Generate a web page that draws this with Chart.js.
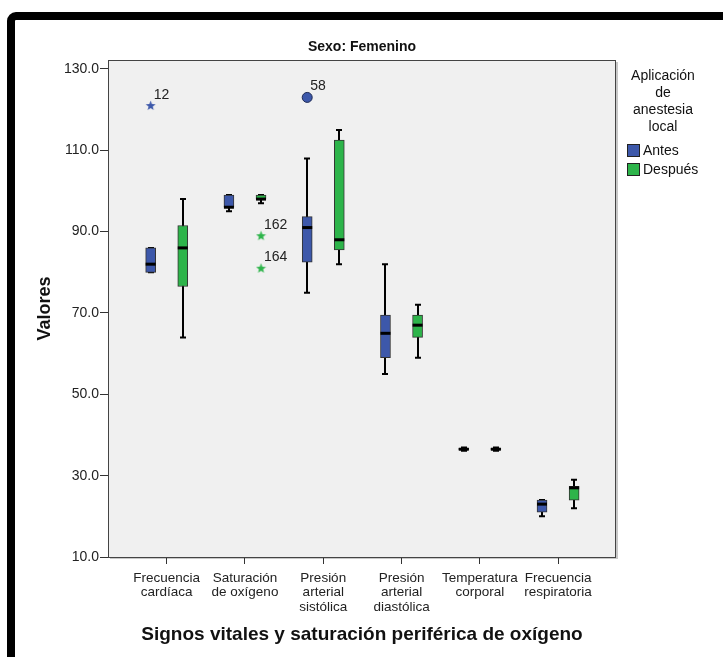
<!DOCTYPE html>
<html>
<head>
<meta charset="utf-8">
<script src="https://cdn.jsdelivr.net/npm/chart.js@4.4.0/dist/chart.umd.min.js"></script>
<style>
    html, body { margin: 0; padding: 0; background: #fff; }
    #wrap { position: relative; width: 723px; height: 657px; overflow: hidden; }
    #frame { position: absolute; left: 7px; top: 12px; width: 760px; height: 700px;
             border: 8px solid #000; border-radius: 9px; box-sizing: border-box; }
    #chart { position: absolute; left: 0; top: 0; }
</style>
</head>
<body>
<div id="wrap">
    <div id="frame"></div>
    <canvas id="chart" width="723" height="657"></canvas>
</div>
<script>
// categorías (eje X)
const categories = [
    ['Frecuencia', 'cardíaca'],
    ['Saturación', 'de oxígeno'],
    ['Presión', 'arterial', 'sistólica'],
    ['Presión', 'arterial', 'diastólica'],
    ['Temperatura', 'corporal'],
    ['Frecuencia', 'respiratoria']
];

// Antes
const antesMin = [80, 95, 75, 55, 36.1, 20];
const antesQ1  = [80, 96, 82.5, 59, 36.3, 21];
const antesMed = [82, 96, 91, 65, 36.5, 23];
const antesQ3  = [86, 99, 93.7, 69.5, 36.7, 24];
const antesMax = [86, 99, 108, 82, 36.9, 24];

// Después
const despuesMin = [64, 97, 82, 59, 36.1, 22];
const despuesQ1  = [76.5, 98, 85.5, 64, 36.3, 24];
const despuesMed = [86, 98, 88, 67, 36.5, 27];
const despuesQ3  = [91.5, 99, 112.5, 69.5, 36.7, 27.4];
const despuesMax = [98, 99, 115, 72, 36.9, 29];

// valores atípicos
const outlierGroup  = [0, 2, 1, 1];
const outlierSerie  = ['Antes', 'Antes', 'Después', 'Después'];
const outlierValue  = [121, 123, 89, 81];
const outlierLabel  = ['12', '58', '162', '164'];
const outlierShape  = ['star', 'circle', 'star', 'star'];

const yTicks = [10, 30, 50, 70, 90, 110, 130];
const legendTitle = ['Aplicación', 'de', 'anestesia', 'local'];
const seriesNames = ['Antes', 'Después'];

const COLOR_ANTES = '#3d58aa';
const COLOR_DESPUES = '#2db44a';
const SHIFT = 0.205;   // desplazamiento de cada caja respecto a la categoría
const FONT = "'Liberation Sans', Arial, sans-serif";

// estrella de 5 puntas como estilo de punto
function makeStar(color) {
    const c = document.createElement('canvas');
    c.width = 11;
    c.height = 11;
    const g = c.getContext('2d');
    g.fillStyle = color;
    g.beginPath();
    for (let j = 0; j < 10; j++) {
        const r = j % 2 === 0 ? 5.2 : 2.2;
        const ang = -Math.PI / 2 + j * Math.PI / 5;
        const px = 5.5 + r * Math.cos(ang);
        const py = 5.8 + r * Math.sin(ang);
        if (j === 0) g.moveTo(px, py); else g.lineTo(px, py);
    }
    g.closePath();
    g.fill();
    return c;
}

function boxData(q1, q3, sign) {
    return categories.map((c, i) => ({ x: i + sign * SHIFT, y: [q1[i], q3[i]] }));
}

function outlierData(serie) {
    const pts = [];
    outlierValue.forEach((v, k) => {
        if (outlierSerie[k] !== serie) return;
        pts.push({ x: outlierGroup[k] + (serie === 'Antes' ? -SHIFT : SHIFT), y: v, k: k });
    });
    return pts;
}

const starAntes = makeStar(COLOR_ANTES);
const starDespues = makeStar(COLOR_DESPUES);

const boxPlugin = {
    id: 'boxParts',
    beforeDraw(chart) {
        const { ctx, chartArea: a } = chart;
        ctx.save();
        // sombra ligera y fondo del área de trazado
        ctx.fillStyle = '#c8c8c8';
        ctx.fillRect(a.left + 2, a.top + 2, a.right - a.left, a.bottom - a.top);
        ctx.fillStyle = '#f0f0f0';
        ctx.fillRect(a.left, a.top, a.right - a.left, a.bottom - a.top);
        ctx.restore();
    },
    beforeDatasetsDraw(chart) {
        const { ctx, chartArea: a, scales: { x, y } } = chart;
        ctx.save();
        ctx.strokeStyle = '#444';
        ctx.lineWidth = 1;
        ctx.strokeRect(a.left + 0.5, a.top + 0.5, a.right - a.left - 1, a.bottom - a.top);
        // bigotes
        ctx.strokeStyle = '#000';
        const sets = [[antesMin, antesMax, -1], [despuesMin, despuesMax, 1]];
        sets.forEach(([mn, mx, sign]) => {
            categories.forEach((c, i) => {
                const px = Math.round(x.getPixelForValue(i + sign * SHIFT));
                const y0 = y.getPixelForValue(mn[i]);
                const y1 = y.getPixelForValue(mx[i]);
                ctx.lineWidth = 2;
                ctx.beginPath();
                ctx.moveTo(px, y0);
                ctx.lineTo(px, y1);
                ctx.stroke();
                ctx.beginPath();
                ctx.moveTo(px - 3, y0);
                ctx.lineTo(px + 3, y0);
                ctx.moveTo(px - 3, y1);
                ctx.lineTo(px + 3, y1);
                ctx.stroke();
            });
        });
        ctx.restore();
    },
    afterDatasetsDraw(chart) {
        const { ctx, scales: { x, y } } = chart;
        ctx.save();
        // medianas
        ctx.strokeStyle = '#000';
        ctx.lineWidth = 3;
        [[antesMed, -1], [despuesMed, 1]].forEach(([med, sign]) => {
            categories.forEach((c, i) => {
                const px = x.getPixelForValue(i + sign * SHIFT);
                const py = y.getPixelForValue(med[i]);
                ctx.beginPath();
                ctx.moveTo(px - 5, py);
                ctx.lineTo(px + 5, py);
                ctx.stroke();
            });
        });
        // etiquetas de atípicos
        ctx.fillStyle = '#222';
        ctx.font = '14px ' + FONT;
        ctx.textAlign = 'left';
        ctx.textBaseline = 'alphabetic';
        outlierValue.forEach((v, k) => {
            const sign = outlierSerie[k] === 'Antes' ? -1 : 1;
            const px = x.getPixelForValue(outlierGroup[k] + sign * SHIFT);
            const py = y.getPixelForValue(v);
            ctx.fillText(outlierLabel[k], px + 3, py - 7);
        });
        ctx.restore();
    },
    afterDraw(chart) {
        const { ctx, chartArea: a } = chart;
        ctx.save();
        // título
        ctx.fillStyle = '#111';
        ctx.font = 'bold 14px ' + FONT;
        ctx.textAlign = 'center';
        ctx.textBaseline = 'middle';
        ctx.fillText('Sexo: Femenino', (a.left + a.right) / 2, 47);
        // leyenda
        ctx.font = '14px ' + FONT;
        legendTitle.forEach((t, j) => ctx.fillText(t, 663, 76 + j * 17));
        ctx.textAlign = 'left';
        chart.data.datasets.slice(0, 2).forEach((ds, j) => {
            const top = 144 + j * 19;
            ctx.fillStyle = ds.backgroundColor;
            ctx.fillRect(627, top, 13, 13);
            ctx.strokeStyle = '#222';
            ctx.lineWidth = 1;
            ctx.strokeRect(627.5, top + 0.5, 12, 12);
            ctx.fillStyle = '#111';
            ctx.fillText(seriesNames[j], 643, top + 7);
        });
        ctx.restore();
    }
};

Chart.defaults.font.family = FONT;
Chart.defaults.color = '#222';

const antesOut = outlierData('Antes');
const despuesOut = outlierData('Después');

new Chart(document.getElementById('chart'), {
    type: 'bar',
    data: {
        datasets: [
            {
                label: seriesNames[0],
                data: boxData(antesQ1, antesQ3, -1),
                backgroundColor: COLOR_ANTES,
                borderColor: '#333',
                borderWidth: 1,
                borderSkipped: false,
                barThickness: 10,
                grouped: false
            },
            {
                label: seriesNames[1],
                data: boxData(despuesQ1, despuesQ3, 1),
                backgroundColor: COLOR_DESPUES,
                borderColor: '#333',
                borderWidth: 1,
                borderSkipped: false,
                barThickness: 10,
                grouped: false
            },
            {
                type: 'scatter',
                label: 'atípicos Antes',
                data: antesOut,
                pointStyle: antesOut.map(p => outlierShape[p.k] === 'circle' ? 'circle' : starAntes),
                pointRadius: antesOut.map(p => outlierShape[p.k] === 'circle' ? 5 : 5),
                backgroundColor: COLOR_ANTES,
                borderColor: '#1e2a55',
                borderWidth: 1
            },
            {
                type: 'scatter',
                label: 'atípicos Después',
                data: despuesOut,
                pointStyle: starDespues,
                pointRadius: 5,
                backgroundColor: COLOR_DESPUES,
                borderColor: COLOR_DESPUES,
                borderWidth: 1
            }
        ]
    },
    options: {
        responsive: false,
        devicePixelRatio: 1,
        animation: false,
        layout: { padding: { left: 0, top: 60, right: 107, bottom: 0 } },
        plugins: {
            legend: { display: false },
            tooltip: { enabled: false }
        },
        scales: {
            x: {
                type: 'linear',
                min: -0.75,
                max: 5.74,
                offset: false,
                afterFit: s => { s.height = 100; },
                afterBuildTicks: s => { s.ticks = categories.map((c, i) => ({ value: i })); },
                ticks: {
                    callback: (v, i) => categories[i],
                    maxRotation: 0,
                    autoSkip: false,
                    padding: 7,
                    color: '#222',
                    font: { size: 13.5, lineHeight: 1.07 }
                },
                grid: { offset: false, drawOnChartArea: false, drawTicks: true, tickLength: 7, color: '#333' },
                border: { display: false },
                title: {
                    display: true,
                    text: 'Signos vitales y saturación periférica de oxígeno',
                    color: '#111',
                    font: { size: 19, weight: 'bold' },
                    padding: { top: 0, bottom: 11 }
                }
            },
            y: {
                min: 10,
                max: 132.2,
                afterFit: s => { s.width = 108; },
                afterBuildTicks: s => { s.ticks = yTicks.map(v => ({ value: v })); },
                ticks: {
                    callback: v => v.toFixed(1),
                    padding: 1,
                    color: '#222',
                    font: { size: 14 }
                },
                grid: { drawOnChartArea: false, drawTicks: true, tickLength: 8, color: '#333' },
                border: { display: false },
                title: {
                    display: true,
                    text: 'Valores',
                    color: '#111',
                    font: { size: 18, weight: 'bold' },
                    padding: { top: 34, bottom: 0 }
                }
            }
        }
    },
    plugins: [boxPlugin]
});
</script>
</body>
</html>
